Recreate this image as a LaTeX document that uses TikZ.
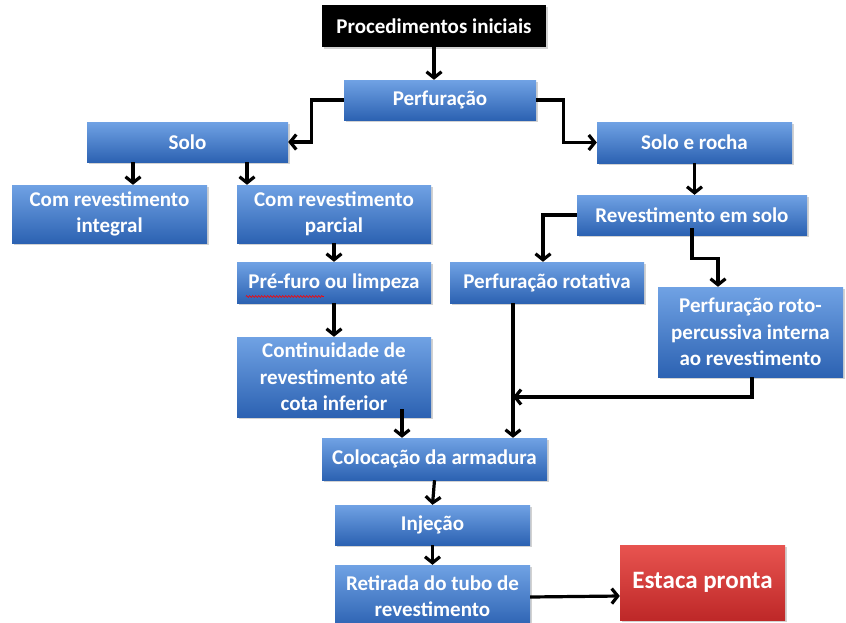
\documentclass[tikz,border=0pt]{standalone}
\usepackage{fontspec}
\setmainfont{Carlito}
\usetikzlibrary{arrows.meta,shadows,calc,decorations.pathmorphing}
\definecolor{boxtop}{RGB}{112,162,228}
\definecolor{boxbot}{RGB}{44,98,178}
\definecolor{redtop}{RGB}{232,84,80}
\definecolor{redbot}{RGB}{190,40,40}
\begin{document}
\begin{tikzpicture}[x=1pt,y=-1pt,
  base/.style={rectangle, draw=none, text=white, align=center, inner sep=2pt,
    font=\bfseries\fontsize{21}{26.5}\selectfont,
    drop shadow={opacity=0.35, shadow xshift=1.5pt, shadow yshift=-2pt}},
  box/.style={base, top color=boxtop, bottom color=boxbot},
  redbox/.style={base, top color=redtop, bottom color=redbot, font=\bfseries\fontsize{25}{30}\selectfont},
  blackbox/.style={base, fill=black},
  arr/.style={line width=3.2pt, line join=miter, -{Straight Barb[length=6pt,width=15pt]}}
]
\useasboundingbox (0,0) rectangle (846,622);
\fill[white] (0,0) rectangle (846,622);

\node[blackbox, minimum width=224pt, minimum height=42pt] (proc) at (434,26) {Procedimentos iniciais};
\node[box, minimum width=192pt, minimum height=40pt] (perf) at (440,100) {Perfuração};
\node[box, minimum width=201pt, minimum height=40pt] (solo) at (187.5,142) {Solo};
\node[box, minimum width=195pt, minimum height=41pt] (sr) at (694.5,142.5) {Solo e rocha};
\node[box, minimum width=195pt, minimum height=58pt] (int) at (109.5,214) {Com revestimento\\integral};
\node[box, minimum width=194pt, minimum height=58pt] (par) at (334,214) {Com revestimento\\parcial};
\node[box, minimum width=194pt, minimum height=41pt] (pre) at (334,282.5) {Pré-furo ou limpeza};
\node[box, minimum width=194pt, minimum height=80pt] (cont) at (334,377) {Continuidade de\\revestimento até\\cota inferior};
\node[box, minimum width=230pt, minimum height=40pt] (rev) at (692,215) {Revestimento em solo};
\node[box, minimum width=194pt, minimum height=41pt] (rot) at (547,282.5) {Perfuração rotativa};
\node[box, minimum width=185pt, minimum height=90pt] (roto) at (750.5,332) {Perfuração roto-\\percussiva interna\\ao revestimento};
\node[box, minimum width=225pt, minimum height=42pt] (col) at (434.5,459) {Colocação da armadura};
\node[box, minimum width=195pt, minimum height=40pt] (inj) at (432.5,525) {Injeção};
\node[box, minimum width=195pt, minimum height=62pt] (ret) at (432.5,596) {Retirada do tubo de\\revestimento};
\node[redbox, minimum width=165pt, minimum height=75pt] (est) at (702.5,582.5) {Estaca pronta};

\draw[red, line width=0.6pt, decorate, decoration={snake, amplitude=0.9pt, segment length=3pt}]
  ($(pre.west)+(9,14)$) -- ++(78,0);

\coordinate (j) at (513,397);

\draw[arr] (proc.south) -- (proc.south |- perf.north);
\draw[arr] (perf.west) -- ++(-32,0) |- (solo.east);
\draw[arr] (perf.east) -- ++(27,0) |- (sr.west);
\draw[arr] ([xshift=-54.5pt]solo.south) -- ([xshift=23.5pt]int.north);
\draw[arr] ([xshift=59.5pt]solo.south) -- ([xshift=-87pt]par.north);
\draw[arr] (par.south) -- (pre.north);
\draw[arr] (pre.south) -- (cont.north);
\draw[arr] ($(cont.south)+(68,-8)$) -- ($(col.north)+(-32.5,0)$);
\draw[arr] (sr.south) -- (sr.south |- rev.north);
\draw[arr] (rev.west) -| ([xshift=-4pt]rot.north);
\draw[arr] ([yshift=7pt]rev.south) -- ++(0,30) -| ([xshift=-32.5pt]roto.north);
\draw[arr] (rot.south -| j) -- (col.north -| j);
\draw[arr] ([xshift=1.5pt]roto.south) |- (j);
\draw[arr] (col.south) -- (inj.north);
\draw[arr] (inj.south) -- (ret.north);
\draw[arr] ([yshift=-1pt]ret.east) -- ([yshift=-13.5pt]est.west);
\end{tikzpicture}
\end{document}
